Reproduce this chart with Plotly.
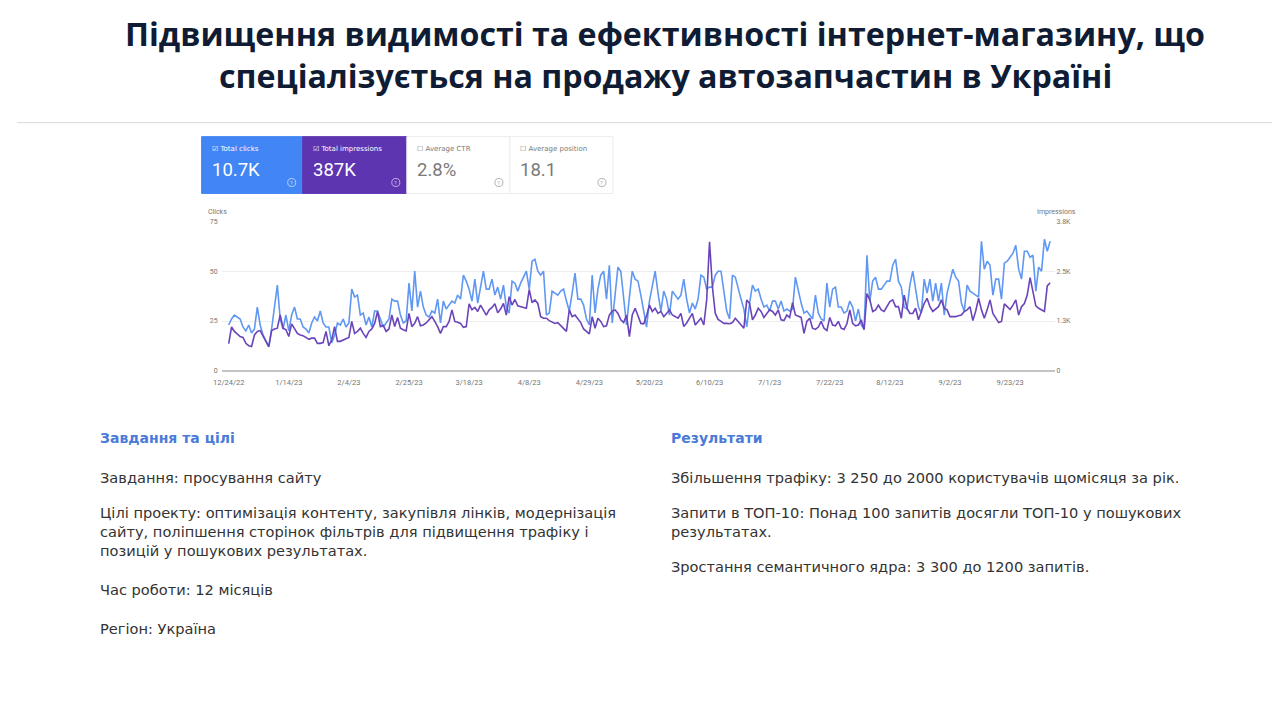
import datetime as dt
import plotly.graph_objects as go

# figure sits inside the default 8px page margin of the 1280x720 window
W, H = 1264, 704
OFF = 8

# --- data (daily, from 12/24/22) ---
start_day = dt.date(2022, 12, 24)

clicks = [
    23, 26, 28, 27, 26, 22, 20, 23, 19, 21,
    32, 23, 18, 15, 12, 21, 32, 43, 26, 21,
    28, 20, 28, 32, 26, 26, 22, 21, 19, 24,
    27, 25, 30, 24, 22, 22, 14, 18, 24, 23,
    26, 22, 24, 41, 37, 38, 28, 29, 23, 27,
    22, 30, 30, 26, 22, 24, 26, 36, 35, 35,
    28, 24, 25, 44, 30, 50, 32, 40, 32, 28,
    27, 30, 29, 36, 24, 35, 31, 33, 35, 34,
    38, 36, 48, 45, 41, 35, 46, 34, 43, 50,
    41, 41, 46, 38, 42, 36, 43, 32, 29, 45,
    44, 40, 44, 47, 50, 41, 55, 56, 50, 48,
    50, 28, 29, 40, 39, 38, 40, 41, 35, 30,
    39, 49, 36, 36, 33, 26, 23, 48, 29, 41,
    48, 50, 36, 53, 24, 40, 52, 50, 36, 23,
    37, 50, 46, 45, 38, 30, 22, 35, 43, 50,
    39, 30, 40, 36, 28, 40, 38, 36, 38, 46,
    36, 29, 34, 31, 36, 48, 47, 41, 42, 42,
    48, 50, 50, 39, 30, 26, 48, 47, 41, 36,
    31, 22, 34, 43, 40, 41, 36, 32, 33, 30,
    35, 35, 31, 35, 30, 31, 30, 31, 47, 40,
    34, 29, 30, 28, 26, 38, 29, 26, 25, 44,
    32, 41, 42, 32, 32, 29, 30, 35, 32, 25,
    31, 23, 21, 58, 35, 45, 47, 41, 41, 43,
    45, 45, 53, 56, 45, 42, 32, 31, 43, 50,
    42, 32, 29, 46, 39, 46, 35, 44, 35, 44,
    28, 39, 45, 51, 47, 45, 34, 30, 43, 40,
    39, 38, 37, 65, 51, 55, 53, 38, 46, 46,
    36, 54, 55, 57, 59, 63, 51, 46, 60, 60,
    57, 58, 40, 52, 50, 66, 60, 65,
]

impressions = [
    680, 1100, 990, 930, 860, 840, 690, 630, 610, 900,
    990, 1010, 860, 740, 610, 1010, 1050, 1070, 1400, 1070,
    1030, 860, 1180, 1040, 940, 900, 880, 840, 790, 820,
    820, 690, 690, 710, 990, 630, 780, 1110, 740, 740,
    780, 820, 840, 1240, 940, 990, 1070, 940, 840, 990,
    1050, 1190, 1490, 1110, 1140, 990, 1050, 1400, 1110, 1340,
    1070, 1030, 1000, 1440, 1110, 1190, 1360, 1130, 1150, 1200,
    1280, 1360, 1240, 1110, 940, 1110, 1110, 1240, 1530, 1240,
    1220, 1190, 1090, 1110, 1680, 1530, 1590, 1490, 1650, 1530,
    1400, 1530, 1590, 1680, 1460, 1550, 1690, 1400, 1860, 1650,
    1790, 1630, 1600, 1590, 1570, 2040, 1710, 1780, 1690, 1360,
    1320, 1320, 1260, 1230, 1190, 1210, 1130, 1070, 990, 1530,
    1360, 1400, 1290, 1210, 1050, 990, 930, 1360, 1070, 1320,
    1240, 1110, 1130, 1400, 1500, 1530, 1440, 1280, 1210, 1400,
    860, 1400, 1570, 1380, 1190, 1180, 1380, 1650, 1490, 1570,
    1440, 1490, 1360, 1440, 1530, 1400, 1360, 1320, 1440, 1110,
    1200, 1320, 1440, 1150, 1240, 1320, 1150, 1780, 3240, 2110,
    1440, 1290, 1240, 1190, 1190, 1180, 1210, 1320, 1240, 1150,
    1070, 1780, 1690, 1280, 1400, 1570, 1490, 1340, 1440, 1530,
    1490, 1400, 1530, 1280, 1260, 1400, 1340, 1710, 1400, 1360,
    1340, 940, 1240, 1320, 1070, 1040, 1100, 1240, 1070, 1010,
    1340, 1150, 1130, 1240, 1070, 1040, 1180, 1530, 1190, 1130,
    1150, 1280, 1030, 1940, 1780, 1490, 1530, 1650, 1530, 1490,
    1600, 1740, 1780, 1610, 1610, 1320, 1900, 1570, 1440, 1440,
    1570, 1280, 1490, 1690, 1820, 1610, 1490, 1550, 1610, 1780,
    1570, 1530, 1360, 1360, 1360, 1380, 1400, 1490, 1530, 1610,
    1260, 1500, 1820, 1530, 1320, 1530, 1780, 1440, 1340, 1210,
    1240, 1680, 1610, 1540, 1650, 1780, 1400, 1610, 1690, 1900,
    2340, 1990, 1630, 1570, 1530, 1490, 2130, 2210,
]

dates = [start_day + dt.timedelta(days=i) for i in range(len(clicks))]

tick_dates = ["2022-12-24", "2023-01-14", "2023-02-04", "2023-02-25", "2023-03-18",
              "2023-04-08", "2023-04-29", "2023-05-20", "2023-06-10", "2023-07-01",
              "2023-07-22", "2023-08-12", "2023-09-02", "2023-09-23"]
tick_text = ["12/24/22", "1/14/23", "2/4/23", "2/25/23", "3/18/23", "4/8/23", "4/29/23",
             "5/20/23", "6/10/23", "7/1/23", "7/22/23", "8/12/23", "9/2/23", "9/23/23"]

clicks_ticks = [0, 25, 50, 75]
impr_ticks = [0, 1250, 2500, 3750]
impr_tick_text = ["0", "1.3K", "2.5K", "3.8K"]

cards = [
    # label, value, fill, text colour, checked
    ("Total clicks", "10.7K", "#4285f4", "#ffffff", True),
    ("Total impressions", "387K", "#5e35b1", "#ffffff", True),
    ("Average CTR", "2.8%", "#ffffff", "#7a7a7a", False),
    ("Average position", "18.1", "#ffffff", "#7a7a7a", False),
]
card_x = [200, 301, 405, 508]
card_w = [101, 104, 103, 103]

title_lines = ["Підвищення видимості та ефективності інтернет-магазину, що",
               "спеціалізується на продажу автозапчастин в Україні"]

left_head = "Завдання та цілі"
left_blocks = [("Завдання: просування сайту", 467),
               ("Цілі проекту: оптимізація контенту, закупівля лінків, модернізація<br>"
                "сайту, поліпшення сторінок фільтрів для підвищення трафіку і<br>"
                "позицій у пошукових результатах.", 503),
               ("Час роботи: 12 місяців", 580),
               ("Регіон: Україна", 619)]
right_head = "Результати"
right_blocks = [("Збільшення трафіку: 3 250 до 2000 користувачів щомісяця за рік.", 467),
                ("Запити в ТОП-10: Понад 100 запитів досягли ТОП-10 у пошукових<br>"
                 "результатах.", 503),
                ("Зростання семантичного ядра: 3 300 до 1200 запитів.", 557)]


# screen position -> paper fraction (the shot comes out scaled ~0.992 and shifted)
def px(x):
    return ((x - 7.6) / 0.992 - OFF) / W


def py(y):
    return 1 - ((y - 3) / 0.992 - OFF) / H


fig = go.Figure()
fig.add_trace(go.Scatter(x=dates, y=clicks, mode="lines", name="Clicks",
                         line=dict(color="#5f97f2", width=1.6), yaxis="y"))
fig.add_trace(go.Scatter(x=dates, y=impressions, mode="lines", name="Impressions",
                         line=dict(color="#6a45ba", width=1.6), yaxis="y2"))

shapes = []
ann = []

# title + divider
for line, y in zip(title_lines, [33, 75]):
    ann.append(dict(text="<b>" + line + "</b>", x=px(663), y=py(y),
                    font=dict(family="Open Sans", size=32.2, color="#0f1c33"),
                    xanchor="center", yanchor="middle"))
shapes.append(dict(type="line", xref="paper", yref="paper", x0=0, x1=1, y0=py(122), y1=py(122),
                   line=dict(color="#d9d9d9", width=1)))

# metric cards
for (label, value, fill, tc, checked), x0, w in zip(cards, card_x, card_w):
    shapes.append(dict(type="rect", xref="paper", yref="paper", x0=px(x0), x1=px(x0 + w),
                       y0=py(193), y1=py(136), fillcolor=fill,
                       line=dict(color=fill if checked else "#ececec", width=1), layer="below"))
    box = "☑" if checked else "☐"
    ann.append(dict(text=box + " " + label, x=px(x0 + 8), y=py(148),
                    font=dict(family="DejaVu Sans", size=7, color=tc), xanchor="left", yanchor="middle"))
    ann.append(dict(text=value, x=px(x0 + 8), y=py(169),
                    font=dict(family="Roboto", size=18.5, color=tc), xanchor="left", yanchor="middle"))
    cx = x0 + w - 11
    shapes.append(dict(type="circle", xref="paper", yref="paper", x0=px(cx - 4), x1=px(cx + 4),
                       y0=py(186), y1=py(178),
                       line=dict(color="rgba(255,255,255,0.6)" if checked else "#b0b0b0", width=1)))
    ann.append(dict(text="?", x=px(cx), y=py(182),
                    font=dict(family="Roboto", size=6, color="rgba(255,255,255,0.7)" if checked else "#b0b0b0"),
                    xanchor="center", yanchor="middle"))

# axis captions
ann.append(dict(text="Clicks", x=px(204), y=py(212), font=dict(family="Roboto", size=7, color="#757575"),
                xanchor="left", yanchor="middle"))
ann.append(dict(text="Impressions", x=px(1076), y=py(212), font=dict(family="Roboto", size=7, color="#757575"),
                xanchor="right", yanchor="middle"))

# text blocks
for head, blocks, x in [(left_head, left_blocks, 96), (right_head, right_blocks, 667)]:
    ann.append(dict(text="<b>" + head + "</b>", x=px(x), y=py(438),
                    font=dict(family="DejaVu Sans", size=14, color="#4a7bd8"), xanchor="left", yanchor="middle"))
    for text, y in blocks:
        ann.append(dict(text=text, x=px(x), y=py(y), align="left",
                        font=dict(family="DejaVu Sans", size=14.6, color="#333333"),
                        xanchor="left", yanchor="top"))

for a in ann:
    a.update(xref="paper", yref="paper", showarrow=False)

fig.update_layout(
    width=W, height=H,
    margin=dict(l=0, r=0, t=0, b=0),
    paper_bgcolor="white", plot_bgcolor="white",
    showlegend=False,
    shapes=shapes,
    annotations=ann,
    xaxis=dict(domain=[px(220), px(1053)], range=["2022-12-21 13:00", "2023-10-08 20:00"],
               tickmode="array", tickvals=tick_dates, ticktext=tick_text,
               tickfont=dict(family="Roboto", size=7.5, color="#757575"), ticklabelstandoff=6,
               showgrid=False, zeroline=False, showline=False, ticks=""),
    yaxis=dict(domain=[py(371), py(221)], range=[0, 75], tickvals=clicks_ticks,
               tickfont=dict(family="Roboto", size=7, color="#757575"), ticklabelstandoff=3,
               gridcolor="#eeeeee", zeroline=True, zerolinecolor="#c4c4c4", zerolinewidth=1.5,
               showline=False, ticks=""),
    yaxis2=dict(overlaying="y", side="right", range=[0, 3750], tickvals=impr_ticks,
                ticktext=impr_tick_text, tickfont=dict(family="Roboto", size=7, color="#757575"),
                showgrid=False, zeroline=False, showline=False, ticks=""),
)

fig.write_html("out.html", config={"displayModeBar": False})
